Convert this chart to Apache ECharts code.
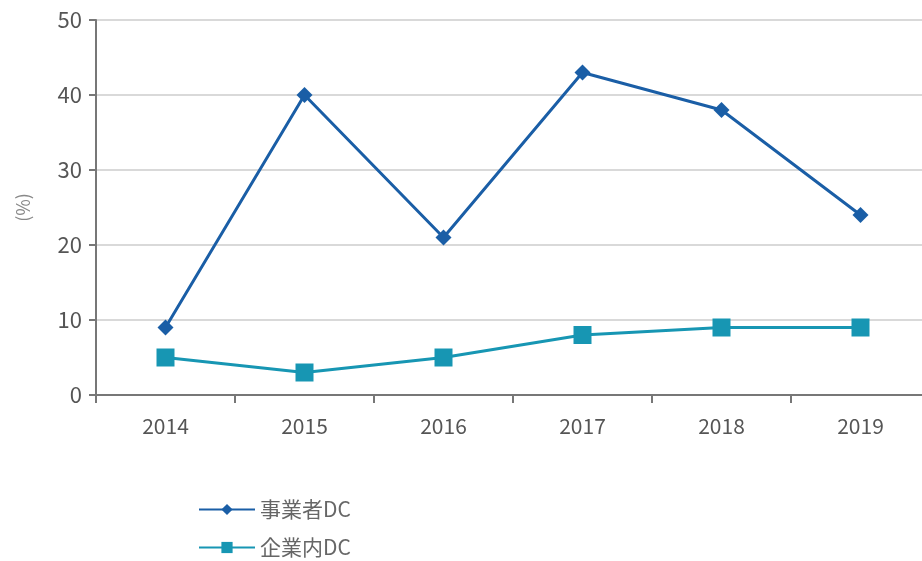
<!DOCTYPE html>
<html>
<head>
<meta charset="utf-8">
<script src="https://cdn.jsdelivr.net/npm/echarts@6/dist/echarts.min.js"></script>
<style>
  html, body { margin: 0; padding: 0; background: #fff; }
  #main { width: 922px; height: 561px; }
</style>
</head>
<body>
<div id="main"></div>
<script>
// data
var years = ['2014', '2015', '2016', '2017', '2018', '2019'];
var jigyoshaDC = [9, 40, 21, 43, 38, 24];
var kigyonaiDC = [5, 3, 5, 8, 9, 9];
var yTicks = [0, 10, 20, 30, 40, 50];

var font = "'Noto Sans CJK JP', 'Noto Sans', sans-serif";
var chart = echarts.init(document.getElementById('main'));

function legendRow(name, top) {
  return {
    orient: 'vertical',
    left: 193,
    top: top,
    itemWidth: 56,
    itemHeight: 14,
    textStyle: { fontSize: 21, color: '#666', fontFamily: font },
    data: [name]
  };
}

var option = {
  backgroundColor: '#fff',
  textStyle: { fontFamily: font },
  grid: { left: 96, width: 834, top: 20, bottom: 166, outerBoundsMode: 'none' },
  legend: [legendRow('事業者DC', 494), legendRow('企業内DC', 532)],
  xAxis: {
    type: 'category',
    data: years,
    boundaryGap: true,
    axisLine: { lineStyle: { color: '#777', width: 2 } },
    axisTick: { show: true, length: 8, lineStyle: { color: '#777', width: 2 } },
    axisLabel: { fontSize: 21, color: '#555', margin: 21 }
  },
  yAxis: {
    type: 'value',
    min: yTicks[0],
    max: yTicks[yTicks.length - 1],
    interval: 10,
    name: '(%)',
    nameLocation: 'middle',
    nameGap: 64,
    nameTextStyle: { fontSize: 18, color: '#888' },
    axisLine: { show: true, lineStyle: { color: '#777', width: 2 } },
    axisTick: { show: true, length: 7, lineStyle: { color: '#777', width: 2 } },
    axisLabel: { fontSize: 22, color: '#555', margin: 14 },
    splitLine: { lineStyle: { color: '#d9d9d9', width: 2 } }
  },
  series: [
    {
      name: '事業者DC',
      type: 'line',
      data: jigyoshaDC,
      symbol: 'diamond',
      symbolSize: 16,
      color: '#1a5ea6',
      lineStyle: { width: 3, color: '#1a5ea6' },
      itemStyle: { color: '#1a5ea6' }
    },
    {
      name: '企業内DC',
      type: 'line',
      data: kigyonaiDC,
      symbol: 'rect',
      symbolSize: 18,
      color: '#1796b3',
      lineStyle: { width: 3, color: '#1796b3' },
      itemStyle: { color: '#1796b3' }
    }
  ]
};
chart.setOption(option);
</script>
</body>
</html>
